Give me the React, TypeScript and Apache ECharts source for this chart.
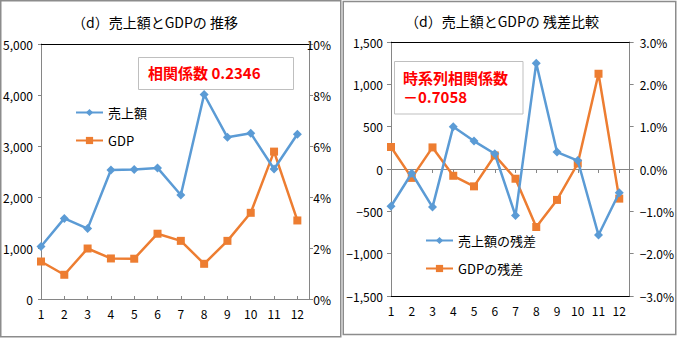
import React, { useEffect, useRef } from "react";
import * as echarts from "echarts";

const categories = [1, 2, 3, 4, 5, 6, 7, 8, 9, 10, 11, 12];
const sales = [1030, 1580, 1380, 2530, 2540, 2570, 2040, 4010, 3170, 3250, 2550, 3230];
const gdp = [1.47, 0.95, 1.98, 1.59, 1.58, 2.56, 2.28, 1.38, 2.28, 3.38, 5.78, 3.08];
const salesResid = [-440, -50, -450, 500, 330, 180, -550, 1250, 200, 100, -780, -280];
const gdpResid = [0.52, -0.21, 0.51, -0.16, -0.41, 0.32, -0.23, -1.37, -0.73, 0.13, 2.25, -0.7];

const titleLeft = "（d）売上額とGDPの 推移";
const titleRight = "（d）売上額とGDPの 残差比較";
const noteLeft = "相関係数 0.2346";
const noteRight1 = "時系列相関係数";
const noteRight2 = "－0.7058";
const names = ["売上額", "GDP", "売上額の残差", "GDPの残差"];

const FONT = "'Noto Sans CJK JP', 'Noto Sans', sans-serif";
const GRAY = "#868686";
const BLUE = "#5B9BD5";
const ORANGE = "#ED7D31";

const fmtNum = (v: number) => {
  const s = Math.abs(v).toLocaleString("en-US");
  return v < 0 ? "−" + s : s;
};
const intOnly = (v: number) => (Number.isInteger(v) ? String(v) : "");

export default function App() {
  const ref = useRef<HTMLDivElement>(null);
  useEffect(() => {
    document.body.style.margin = "0";
    if (!ref.current) return;
    const chart = echarts.init(ref.current, undefined, { renderer: "svg" });
    const labelStyle = { color: "#000", fontSize: 12, fontFamily: FONT };
    const grayLine = { show: true, lineStyle: { color: GRAY, width: 1 } };
    const xBase = { type: "value", min: 1, max: 12.5, interval: 1, splitLine: { show: false } };
    const pair = (arr: number[]) => categories.map((c, i) => [c, arr[i]]);
    const option: any = {
      animation: false,
      grid: [
        { left: 41, top: 44, width: 268, height: 255 },
        { left: 391, top: 42, width: 243, height: 254 },
      ],
      xAxis: [
        {
          ...xBase, gridIndex: 0, position: "bottom",
          axisLine: { ...grayLine, onZero: false },
          axisTick: { show: true, inside: true, length: 3, lineStyle: { color: GRAY } },
          axisLabel: { ...labelStyle, margin: 8, formatter: intOnly },
        },
        {
          ...xBase, gridIndex: 0, position: "top",
          axisLine: { show: true, onZero: false, lineStyle: { color: "#000", width: 1 } },
          axisTick: { show: false }, axisLabel: { show: false },
        },
        {
          ...xBase, gridIndex: 1, position: "bottom",
          axisLine: { show: true, onZero: false, lineStyle: { color: "#000", width: 1 } },
          axisTick: { show: false },
          axisLabel: { ...labelStyle, margin: 8, formatter: intOnly },
        },
        {
          ...xBase, gridIndex: 1, position: "top",
          axisLine: { ...grayLine, onZero: true },
          axisTick: { show: true, inside: true, length: 4, lineStyle: { color: GRAY } },
          axisLabel: { show: false },
        },
      ],
      yAxis: [
        {
          type: "value", gridIndex: 0, position: "left", min: 0, max: 5000, interval: 1000,
          splitLine: { show: false }, axisLine: grayLine,
          axisTick: { show: true, length: 3, lineStyle: { color: GRAY } },
          axisLabel: { ...labelStyle, margin: 8, formatter: fmtNum },
        },
        {
          type: "value", gridIndex: 0, position: "right", min: 0, max: 10, interval: 2,
          splitLine: { show: false }, axisLine: grayLine,
          axisTick: { show: true, length: 4, lineStyle: { color: GRAY } },
          axisLabel: { ...labelStyle, margin: 22, align: "right", formatter: (v: number) => v + "%" },
        },
        {
          type: "value", gridIndex: 1, position: "left", min: -1500, max: 1500, interval: 500,
          splitLine: { show: false }, axisLine: grayLine,
          axisTick: { show: true, length: 4, lineStyle: { color: GRAY } },
          axisLabel: { ...labelStyle, margin: 8, formatter: fmtNum },
        },
        {
          type: "value", gridIndex: 1, position: "right", min: -3, max: 3, interval: 1,
          splitLine: { show: false }, axisLine: grayLine,
          axisTick: { show: true, length: 4, lineStyle: { color: GRAY } },
          axisLabel: {
            ...labelStyle, margin: 10,
            formatter: (v: number) => (v < 0 ? "−" : "") + Math.abs(v).toFixed(1) + "%",
          },
        },
      ],
      legend: [
        {
          data: [names[0], names[1]], left: 70, top: 101, orient: "vertical",
          itemWidth: 27, itemHeight: 9, itemGap: 15,
          textStyle: { color: "#000", fontSize: 13, fontFamily: FONT },
        },
        {
          data: [names[2], names[3]], left: 420, top: 229, orient: "vertical",
          itemWidth: 27, itemHeight: 9, itemGap: 15,
          textStyle: { color: "#000", fontSize: 13, fontFamily: FONT },
        },
      ],
      series: [
        {
          name: names[0], type: "line", xAxisIndex: 0, yAxisIndex: 0, data: pair(sales),
          symbol: "diamond", symbolSize: 9, lineStyle: { color: BLUE, width: 2.5 },
          itemStyle: { color: BLUE }, z: 3,
        },
        {
          name: names[1], type: "line", xAxisIndex: 0, yAxisIndex: 1, data: pair(gdp),
          symbol: "rect", symbolSize: 8, lineStyle: { color: ORANGE, width: 2.5 },
          itemStyle: { color: ORANGE }, z: 2,
        },
        {
          name: names[2], type: "line", xAxisIndex: 2, yAxisIndex: 2, data: pair(salesResid),
          symbol: "diamond", symbolSize: 9, lineStyle: { color: BLUE, width: 2.5 },
          itemStyle: { color: BLUE }, z: 3,
          markLine: {
            silent: true, symbol: ["none", "none"], label: { show: false },
            lineStyle: { color: "#000", type: "solid", width: 1 },
            emphasis: { disabled: true },
            data: [{ yAxis: 1500 }],
          },
        },
        {
          name: names[3], type: "line", xAxisIndex: 2, yAxisIndex: 3, data: pair(gdpResid),
          symbol: "rect", symbolSize: 8, lineStyle: { color: ORANGE, width: 2.5 },
          itemStyle: { color: ORANGE }, z: 2,
        },
      ],
      graphic: [
        {
          type: "rect", z: -10, silent: true,
          shape: { x: 0.75, y: 0.75, width: 340, height: 336 },
          style: { fill: "none", stroke: "#8c8c8c", lineWidth: 1.5 },
        },
        {
          type: "rect", z: -10, silent: true,
          shape: { x: 343.25, y: 1.5, width: 332.5, height: 333 },
          style: { fill: "none", stroke: "#8c8c8c", lineWidth: 1.5 },
        },
        {
          type: "text", x: 155, y: 22, silent: true,
          style: { text: titleLeft, align: "center", verticalAlign: "middle", fontSize: 14, fontFamily: FONT, fill: "#000" },
        },
        {
          type: "text", x: 502, y: 21, silent: true,
          style: { text: titleRight, align: "center", verticalAlign: "middle", fontSize: 14, fontFamily: FONT, fill: "#000" },
        },
        {
          type: "rect", z: 50, silent: true,
          shape: { x: 138.5, y: 57.5, width: 155, height: 32 },
          style: { fill: "#fff", stroke: "#bfbfbf", lineWidth: 1 },
        },
        {
          type: "text", z: 51, x: 148, y: 72, silent: true,
          style: { text: noteLeft, align: "left", verticalAlign: "middle", fontSize: 15, fontWeight: "bold", fontFamily: FONT, fill: "#ff0000" },
        },
        {
          type: "rect", z: 50, silent: true,
          shape: { x: 394.5, y: 61.5, width: 128.5, height: 52.5 },
          style: { fill: "#fff", stroke: "#bfbfbf", lineWidth: 1 },
        },
        {
          type: "text", z: 51, x: 403, y: 77, silent: true,
          style: { text: noteRight1, align: "left", verticalAlign: "middle", fontSize: 15, fontWeight: "bold", fontFamily: FONT, fill: "#ff0000" },
        },
        {
          type: "text", z: 51, x: 403, y: 96, silent: true,
          style: { text: noteRight2, align: "left", verticalAlign: "middle", fontSize: 15, fontWeight: "bold", fontFamily: FONT, fill: "#ff0000" },
        },
      ],
    };
    chart.setOption(option);
    return () => chart.dispose();
  }, []);
  return <div ref={ref} style={{ width: 677, height: 338 }} />;
}
